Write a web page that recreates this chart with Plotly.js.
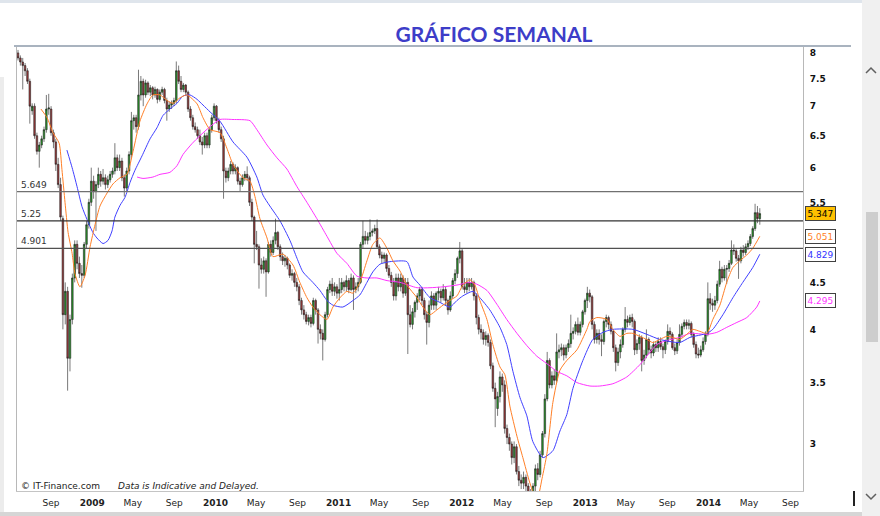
<!DOCTYPE html>
<html><head><meta charset="utf-8">
<script src="https://cdn.plot.ly/plotly-3.0.1.min.js"></script>
<style>html,body{margin:0;padding:0;background:#fff;overflow:hidden}</style>
</head><body><div id="chart" style="width:880px;height:516px"></div>
<script>
// ---- DATA (weekly) ----
const startDate = '2008-05-26';
const openP = [
8.0,7.9,7.82,7.75,7.65,7.45,6.92,7.0,6.5,6.25,
6.35,6.45,6.6,6.95,6.95,6.55,6.4,6.05,5.75,5.28,
4.15,4.4,3.72,4.1,4.55,4.95,4.72,4.6,4.58,4.95,
5.2,5.5,5.8,5.65,5.75,5.9,5.8,5.85,5.75,5.82,
5.9,5.95,6.15,6.0,6.1,5.85,5.7,5.95,6.2,6.75,
6.8,6.65,7.2,7.45,7.2,7.42,7.25,7.33,7.2,7.3,
7.12,7.25,7.3,7.1,6.95,7.02,7.05,7.1,7.65,7.45,
7.3,7.38,7.25,6.95,6.8,6.65,6.6,6.5,6.4,6.35,
6.5,6.35,6.6,6.8,7.0,6.75,6.6,6.45,5.95,5.85,
5.95,6.05,5.95,6.0,5.8,5.75,5.85,5.9,5.85,5.5,
5.3,4.95,4.92,4.7,4.65,4.75,4.62,4.95,4.85,5.0,
5.1,4.92,4.8,4.75,4.78,4.7,4.58,4.6,4.5,4.45,
4.3,4.2,4.15,4.08,4.12,4.06,4.3,4.2,4.0,3.96,
3.9,4.15,4.42,4.48,4.4,4.45,4.38,4.42,4.5,4.45,
4.52,4.42,4.55,4.42,4.45,4.5,4.95,5.05,5.0,5.05,
5.1,5.12,5.15,4.92,4.82,4.78,4.82,4.66,4.58,4.5,
4.35,4.55,4.45,4.55,4.38,4.5,4.15,4.05,4.18,4.28,
4.35,4.42,4.3,4.15,4.07,4.25,4.35,4.25,4.38,4.4,
4.33,4.42,4.3,4.2,4.35,4.52,4.6,4.78,4.87,4.45,
4.42,4.5,4.45,4.5,4.35,4.12,4.0,3.97,3.9,3.94,
3.87,3.65,3.45,3.28,3.38,3.55,3.48,3.12,3.05,3.0,
2.9,2.98,2.8,2.74,2.72,2.76,2.7,2.64,2.6,2.7,
2.82,2.78,2.92,3.08,3.36,3.7,3.48,3.56,3.52,3.78,
3.8,3.82,3.75,3.82,3.86,3.96,3.98,4.05,3.97,4.05,
4.18,4.3,4.38,4.34,4.05,3.9,3.96,3.9,3.88,4.08,
4.12,4.05,3.98,3.82,3.68,3.78,3.85,4.0,4.1,4.07,
4.12,4.08,3.8,3.86,3.92,3.7,3.75,3.9,3.8,3.77,
3.85,3.82,3.88,3.83,3.8,3.88,3.98,3.95,3.82,3.79,
3.87,3.95,4.03,4.07,4.04,4.06,3.95,3.85,3.76,3.75,
3.8,3.88,3.95,4.32,4.27,4.25,4.3,4.48,4.65,4.55,
4.65,4.66,4.72,4.88,4.87,4.78,4.75,4.88,4.85,4.92,
4.96,5.05,5.15,5.36,5.28];
const highP = [
8.06,7.95,7.9,7.8,7.7,7.5,7.05,7.05,6.55,6.4,
6.5,6.65,7.2,7.22,7.0,6.6,6.45,6.15,5.85,5.32,
4.5,4.45,4.15,4.6,5.0,5.0,4.8,4.7,4.98,5.25,
5.55,6.0,5.88,5.8,6.0,5.95,5.98,5.9,5.88,5.95,
6.0,6.38,6.2,6.2,6.15,5.9,6.0,6.25,6.9,6.85,
6.85,7.67,7.55,7.5,7.48,7.45,7.38,7.36,7.35,7.32,
7.3,7.35,7.33,7.15,7.08,7.1,7.15,7.83,7.75,7.55,
7.42,7.4,7.28,7.0,6.85,6.72,6.65,6.6,6.48,6.55,
6.55,6.65,6.85,7.05,7.02,6.8,6.65,6.5,6.0,6.0,
6.1,6.08,6.05,6.02,5.85,5.9,5.95,6.02,5.88,5.55,
5.32,5.12,4.95,4.78,4.8,4.78,4.98,5.0,5.05,5.28,
5.12,4.95,4.85,4.82,4.8,4.72,4.65,4.62,4.55,4.48,
4.33,4.25,4.18,4.15,4.15,4.33,4.32,4.22,4.05,4.0,
4.18,4.45,4.52,4.55,4.5,4.48,4.55,4.55,4.52,4.58,
4.55,4.6,4.58,4.5,4.55,4.98,5.25,5.12,5.1,5.27,
5.15,5.2,5.27,4.95,4.86,4.85,4.84,4.7,4.62,4.55,
4.6,4.6,4.6,4.58,4.55,4.55,4.25,4.22,4.3,4.38,
4.45,4.45,4.33,4.18,4.3,4.4,4.38,4.4,4.45,4.43,
4.48,4.45,4.32,4.4,4.55,4.65,4.8,4.98,4.9,4.55,
4.55,4.55,4.55,4.52,4.38,4.15,4.05,4.0,3.98,3.96,
3.9,3.68,3.5,3.42,3.6,3.58,3.52,3.15,3.08,3.02,
3.02,3.0,2.84,2.78,2.8,2.78,2.72,2.68,2.72,2.85,
2.86,2.95,3.1,3.4,3.78,3.72,3.6,3.62,3.96,3.85,
3.86,3.85,3.85,3.9,4.15,4.02,4.08,4.12,4.08,4.2,
4.32,4.45,4.42,4.36,4.08,4.0,4.0,3.95,4.1,4.15,
4.14,4.08,4.0,3.85,3.82,3.9,4.02,4.23,4.14,4.15,
4.16,4.1,3.9,3.95,3.94,3.8,4.0,3.92,3.84,3.88,
3.88,3.92,3.92,3.86,3.9,4.05,4.02,3.97,3.86,3.9,
4.05,4.06,4.1,4.1,4.1,4.08,3.97,3.88,3.82,3.84,
3.92,3.98,4.5,4.38,4.32,4.35,4.52,4.75,4.68,4.7,
4.7,4.76,5.0,4.95,4.9,4.82,4.92,4.94,4.96,5.0,
5.08,5.18,5.48,5.45,5.42];
const lowP = [
7.85,7.75,7.3,7.55,7.4,6.7,6.85,6.45,6.2,6.0,
6.3,6.4,6.55,6.85,6.5,6.3,5.95,5.7,5.25,4.0,
4.05,3.43,3.6,4.05,4.5,4.65,4.55,4.44,4.55,4.9,
5.15,5.45,5.55,5.12,5.7,5.72,5.75,5.68,5.7,5.78,
5.85,5.9,5.95,5.95,5.8,5.58,5.65,5.9,6.15,6.6,
6.55,6.6,7.1,7.0,7.15,7.2,7.18,7.12,7.15,7.05,
7.08,7.2,7.05,6.75,6.9,6.95,7.0,7.05,7.4,7.25,
7.25,7.2,6.9,6.75,6.6,6.55,6.45,6.35,6.2,6.3,
6.3,6.3,6.55,6.75,6.7,6.55,6.4,5.55,5.78,5.8,
5.9,5.9,5.9,5.75,5.65,5.72,5.8,5.8,5.45,5.25,
4.72,4.88,4.43,4.6,4.6,4.34,4.6,4.8,4.82,4.95,
4.88,4.75,4.7,4.68,4.65,4.55,4.52,4.45,4.4,4.25,
4.15,4.1,4.05,4.04,4.02,4.04,4.15,3.86,3.9,3.7,
3.88,4.12,4.38,4.35,4.35,4.32,4.3,4.38,4.4,4.4,
4.38,4.4,4.2,4.38,4.4,4.48,4.9,4.95,4.95,5.0,
5.05,5.08,4.9,4.78,4.72,4.72,4.62,4.55,4.45,4.3,
4.3,4.4,4.4,4.33,4.35,3.76,4.02,4.0,4.12,4.2,
4.3,4.25,4.1,3.85,4.02,4.2,4.2,4.2,4.3,4.28,
4.3,4.25,4.15,4.18,4.32,4.48,4.55,4.72,4.42,4.38,
4.38,4.4,4.42,4.3,4.05,3.95,3.9,3.85,3.84,3.83,
3.62,3.42,3.13,3.22,3.33,3.42,3.08,3.0,2.95,2.85,
2.86,2.78,2.7,2.68,2.68,2.66,2.6,2.56,2.58,2.66,
2.74,2.76,2.9,3.05,3.34,3.45,3.45,3.48,3.5,3.72,
3.74,3.7,3.72,3.78,3.82,3.9,3.95,3.94,3.94,4.02,
4.15,4.22,4.28,4.0,3.86,3.86,3.85,3.74,3.85,4.02,
4.0,3.95,3.78,3.6,3.65,3.72,3.82,3.97,4.02,4.04,
4.02,3.75,3.76,3.8,3.6,3.66,3.72,3.76,3.72,3.74,
3.78,3.78,3.8,3.72,3.76,3.85,3.9,3.8,3.75,3.76,
3.84,3.92,4.0,4.0,4.0,3.92,3.82,3.72,3.72,3.73,
3.78,3.85,3.93,4.2,4.18,4.2,4.27,4.45,4.5,4.52,
4.48,4.62,4.7,4.82,4.74,4.54,4.72,4.8,4.82,4.88,
4.93,5.02,5.12,5.22,5.2];
const closeP = [
7.9,7.82,7.75,7.65,7.45,7.0,7.0,6.5,6.25,6.35,
6.45,6.6,6.95,6.97,6.55,6.4,6.05,5.75,5.3,4.15,
4.4,3.72,4.1,4.55,4.95,4.72,4.6,4.58,4.95,5.2,
5.5,5.8,5.65,5.75,5.9,5.8,5.85,5.75,5.82,5.9,
5.95,6.15,6.0,6.1,5.85,5.7,5.95,6.2,6.75,6.8,
6.65,7.2,7.45,7.2,7.42,7.25,7.33,7.2,7.3,7.12,
7.25,7.3,7.1,6.95,7.02,7.05,7.1,7.65,7.45,7.3,
7.38,7.25,6.95,6.8,6.65,6.6,6.5,6.4,6.35,6.5,
6.35,6.6,6.8,7.0,6.75,6.6,6.45,5.95,5.85,5.95,
6.05,5.95,6.0,5.8,5.75,5.85,5.9,5.85,5.5,5.3,
4.95,4.92,4.7,4.65,4.75,4.62,4.95,4.85,5.0,5.1,
4.92,4.8,4.75,4.78,4.7,4.58,4.6,4.5,4.45,4.3,
4.2,4.15,4.08,4.12,4.06,4.3,4.2,4.0,3.96,3.9,
4.15,4.42,4.48,4.4,4.45,4.38,4.42,4.5,4.45,4.52,
4.42,4.55,4.42,4.45,4.5,4.95,5.05,5.0,5.05,5.1,
5.12,5.15,4.92,4.82,4.78,4.82,4.66,4.58,4.5,4.35,
4.55,4.45,4.55,4.38,4.5,4.15,4.05,4.18,4.28,4.35,
4.42,4.3,4.15,4.07,4.25,4.35,4.25,4.38,4.4,4.33,
4.42,4.3,4.2,4.35,4.52,4.6,4.78,4.87,4.45,4.42,
4.5,4.45,4.5,4.35,4.12,4.0,3.97,3.9,3.94,3.87,
3.65,3.45,3.36,3.38,3.55,3.48,3.12,3.05,3.0,2.9,
2.98,2.8,2.74,2.72,2.76,2.7,2.64,2.6,2.7,2.82,
2.78,2.92,3.08,3.36,3.7,3.48,3.56,3.52,3.78,3.8,
3.82,3.75,3.82,3.86,3.96,3.98,4.05,3.97,4.05,4.18,
4.3,4.38,4.34,4.05,3.9,3.96,3.9,3.88,4.08,4.12,
4.05,3.98,3.82,3.68,3.78,3.85,4.0,4.1,4.07,4.12,
4.08,3.8,3.86,3.92,3.7,3.75,3.9,3.8,3.77,3.85,
3.82,3.88,3.83,3.8,3.88,3.98,3.95,3.82,3.79,3.87,
3.95,4.03,4.07,4.04,4.06,3.95,3.85,3.76,3.75,3.8,
3.88,3.95,4.32,4.27,4.25,4.3,4.48,4.65,4.55,4.65,
4.66,4.72,4.88,4.87,4.78,4.75,4.88,4.85,4.92,4.96,
5.05,5.15,5.36,5.28,5.347];

// moving averages: [week index, value]
const maOrange = [[9.7,6.95],[12.3,6.8],[14.8,6.55],[17.4,6.38],[18.6,5.97],[19.9,5.5],[21.2,5.1],[22.9,4.84],[24.1,4.6],[26.2,4.45],[28.4,4.58],[30.5,4.92],[32.6,5.2],[34.7,5.45],[37.7,5.63],[40.2,5.76],[43.2,5.85],[46.1,5.9],[48.7,6.25],[51.6,6.74],[54.6,7.04],[57.1,7.2],[60.1,7.2],[63.1,7.1],[65.6,7.05],[68.6,7.15],[71.5,7.2],[75.8,7.04],[78.3,6.8],[81.3,6.6],[85.5,6.55],[88.4,6.3],[91.0,6.05],[95.2,5.85],[98.2,5.8],[100.3,5.58],[102.4,5.28],[105.4,5.03],[107.9,4.8],[112.1,4.83],[116.4,4.7],[119.3,4.5],[122.3,4.33],[124.8,4.23],[127.8,4.15],[130.8,4.1],[133.3,4.23],[136.3,4.33],[139.2,4.4],[141.8,4.38],[144.7,4.5],[147.7,4.75],[150.2,4.95],[153.2,5.03],[156.2,4.9],[158.7,4.75],[161.7,4.63],[164.6,4.47],[168.9,4.33],[171.4,4.23],[174.4,4.15],[177.3,4.2],[179.9,4.25],[182.8,4.3],[185.8,4.35],[188.3,4.47],[191.3,4.53],[193.4,4.47],[195.5,4.3],[198.5,4.1],[201.0,3.85],[204.0,3.64],[206.1,3.57],[208.2,3.3],[211.2,3.06],[213.7,2.9],[216.7,2.72],[219.6,2.6],[221.8,2.75],[223.9,2.93],[226.4,3.33],[229.4,3.61],[232.3,3.7],[236.6,3.8],[240.8,4.0],[242.1,4.08],[245.0,4.12],[249.3,4.1],[251.8,4.0],[254.8,3.93],[257.7,3.96],[260.3,3.96],[263.2,3.93],[266.2,3.9],[268.7,3.87],[271.7,3.9],[274.6,3.93],[277.2,3.92],[280.1,3.9],[283.1,3.95],[285.6,4.0],[288.6,3.98],[291.6,3.96],[294.1,4.1],[297.1,4.25],[300.0,4.5],[302.6,4.67],[305.5,4.75],[308.5,4.82],[311.0,4.9],[314,5.051]];
const maBlue = [[20.7,6.27],[22.9,6.0],[25.0,5.72],[27.1,5.44],[29.2,5.27],[31.7,5.1],[33.4,5.03],[36.0,4.96],[38.1,5.0],[39.8,5.12],[41.0,5.3],[43.2,5.46],[45.3,5.57],[47.4,5.78],[49.5,5.96],[52.5,6.18],[55.9,6.45],[58.8,6.63],[61.4,6.84],[64.3,6.95],[67.3,7.05],[69.8,7.18],[72.8,7.2],[75.8,7.12],[78.3,7.02],[81.3,6.9],[85.5,6.74],[91.0,6.4],[96.9,6.16],[101.1,5.86],[103.7,5.6],[106.6,5.45],[110.9,5.25],[115.1,5.0],[118.1,4.78],[120.6,4.62],[124.8,4.5],[127.8,4.41],[130.8,4.3],[133.3,4.25],[137.5,4.23],[141.8,4.3],[144.7,4.36],[147.7,4.5],[150.2,4.62],[153.2,4.71],[157.4,4.74],[164.6,4.74],[167.2,4.56],[170.1,4.47],[174.4,4.33],[178.6,4.28],[182.8,4.23],[185.8,4.3],[188.3,4.35],[192.6,4.4],[195.5,4.33],[199.7,4.2],[204.0,4.02],[206.9,3.85],[209.5,3.6],[212.5,3.37],[215.4,3.22],[217.9,3.02],[222.2,2.9],[226.4,2.95],[229.4,3.1],[232.3,3.23],[234.9,3.45],[239.1,3.7],[243.3,3.9],[247.6,3.97],[251.8,4.0],[260.3,4.0],[266.2,3.95],[271.7,3.9],[280.1,3.87],[284.4,3.92],[291.6,3.96],[294.1,4.0],[298.4,4.15],[302.6,4.33],[306.8,4.5],[311.0,4.67],[314,4.829]];
const maMagenta = [[50.4,5.86],[52.9,5.84],[57.1,5.86],[60.1,5.9],[64.3,5.93],[67.3,6.03],[69.8,6.2],[73.6,6.37],[77.0,6.5],[81.3,6.65],[85.5,6.77],[91.0,6.77],[98.2,6.75],[101.1,6.6],[105.4,6.35],[109.6,6.15],[113.8,5.98],[118.1,5.72],[122.3,5.5],[126.5,5.28],[130.8,5.05],[135.0,4.84],[139.2,4.72],[143.5,4.57],[147.7,4.55],[151.9,4.55],[156.2,4.52],[161.7,4.5],[168.9,4.44],[174.4,4.44],[179.9,4.45],[185.8,4.47],[191.3,4.5],[194.2,4.48],[198.5,4.41],[202.7,4.26],[206.9,4.1],[211.2,3.96],[215.4,3.84],[219.6,3.74],[223.9,3.67],[228.1,3.6],[232.3,3.56],[236.6,3.5],[242.1,3.47],[246.3,3.47],[251.8,3.49],[257.7,3.55],[263.2,3.66],[266.2,3.74],[270.4,3.85],[274.6,3.89],[280.1,3.92],[284.4,3.96],[291.6,3.95],[295.8,3.97],[300.0,4.02],[304.3,4.07],[308.5,4.12],[312.7,4.23],[314,4.295]];

const levelValues = [5.649, 5.25, 4.901];
const levelLabels = ['5.649', '5.25', '4.901'];
const lastValues = [5.347, 5.051, 4.829, 4.295];
const lastLabels = ['5.347', '5.051', '4.829', '4.295'];
const yTickVals = [3, 3.5, 4, 4.5, 5.5, 6, 6.5, 7, 7.5, 8];
const yTickText = ['3', '3.5', '4', '4.5', '5.5', '6', '6.5', '7', '7.5', '8'];
const xTickDates = ['2008-09-01','2009-01-01','2009-05-01','2009-09-01','2010-01-01','2010-05-01','2010-09-01','2011-01-01','2011-05-01','2011-09-01','2012-01-01','2012-05-01','2012-09-01','2013-01-01','2013-05-01','2013-09-01','2014-01-01','2014-05-01','2014-09-01'];
const xTickLabels = ['Sep','2009','May','Sep','2010','May','Sep','2011','May','Sep','2012','May','Sep','2013','May','Sep','2014','May','Sep'];

// ---- helpers ----
const DAY = 86400000;
const t0 = Date.parse(startDate + 'T00:00:00Z');
function wkDate(w) { return new Date(t0 + w * 7 * DAY).toISOString().slice(0, 19).replace('T', ' '); }
const dates = closeP.map((_, i) => wkDate(i));
const xRange = ['2008-05-23', '2014-10-08'];

const W = 880, H = 516, L = 17, R = 803, T = 46, B = 491;
const px = v => (v - L) / (R - L);
const py = v => (B - v) / (B - T);

const traces = [];
traces.push({
  type: 'candlestick', x: dates, open: openP, high: highP, low: lowP, close: closeP,
  increasing: { line: { color: '#202020', width: 0.6 }, fillcolor: '#2a9a2a' },
  decreasing: { line: { color: '#202020', width: 0.6 }, fillcolor: '#a03a3a' },
  whiskerwidth: 0, showlegend: false, hoverinfo: 'skip'
});
function maTrace(pairs, color) {
  return { type: 'scatter', mode: 'lines', x: pairs.map(p => wkDate(p[0])), y: pairs.map(p => p[1]),
    line: { color: color, width: 1, shape: 'spline', smoothing: 0.6 }, showlegend: false, hoverinfo: 'skip' };
}
traces.push(maTrace(maMagenta, '#ff33ff'));
traces.push(maTrace(maBlue, '#4040ff'));
traces.push(maTrace(maOrange, '#ff7f27'));
const levelColors = ['#707070', '#333333', '#505050'];
levelValues.forEach((v, i) => traces.push({
  type: 'scatter', mode: 'lines', x: xRange, y: [v, v],
  line: { color: levelColors[i], width: 1.3 }, showlegend: false, hoverinfo: 'skip'
}));

const annotations = [];
levelValues.forEach((v, i) => annotations.push({
  xref: 'paper', x: px(19), xanchor: 'left', yref: 'y', y: Math.log10(v), yanchor: 'bottom', yshift: 0,
  text: levelLabels[i], showarrow: false, font: { family: 'DejaVu Sans', size: 9, color: '#333' }
}));
const boxText = ['#000000', '#ff7f27', '#3333ff', '#ff33ff'];
const boxFill = ['#ffc000', '#ffffff', '#ffffff', '#ffffff'];
lastValues.forEach((v, i) => annotations.push({
  xref: 'paper', x: px(805), xanchor: 'left', yref: 'y', y: Math.log10(v), yanchor: 'middle',
  text: lastLabels[i], showarrow: false, bgcolor: boxFill[i], bordercolor: '#404040', borderwidth: 1, borderpad: 1.5,
  font: { family: 'DejaVu Sans', size: 9, color: boxText[i] }
}));
annotations.push({ xref: 'paper', yref: 'paper', x: px(19), y: py(486), xanchor: 'left', yanchor: 'middle',
  text: '© IT-Finance.com', showarrow: false, font: { family: 'DejaVu Sans', size: 9, color: '#222' } });
annotations.push({ xref: 'paper', yref: 'paper', x: px(116), y: py(486), xanchor: 'left', yanchor: 'middle',
  text: '<i>Data is Indicative and Delayed.</i>', showarrow: false, font: { family: 'DejaVu Sans', size: 9, color: '#222' } });

function rect(x0, y0, x1, y1, fill) {
  return { type: 'rect', xref: 'paper', yref: 'paper', x0: px(x0), x1: px(x1), y0: py(y1), y1: py(y0),
    fillcolor: fill, line: { width: 0 }, layer: 'below' };
}
function pathPx(points, color, w) {
  const d = points.map((p, i) => (i ? 'L' : 'M') + px(p[0]) + ',' + py(p[1])).join(' ');
  return { type: 'path', xref: 'paper', yref: 'paper', path: d, line: { color: color, width: w } };
}
const shapes = [
  rect(0, 0, 880, 3, '#dfe5ec'),
  rect(0, 77, 4, 516, '#ececec'),
  rect(0, 512, 880, 516, '#d6d6d6'),
  rect(862, 0, 880, 516, '#f0f0f0'),
  rect(866, 212, 878, 342, '#cdcdcd'),
  pathPx([[866, 73], [871, 68], [876, 73]], '#606060', 1.5),
  pathPx([[866, 494], [871, 499], [876, 494]], '#606060', 1.5),
  pathPx([[854, 491], [854, 506]], '#222', 2),
  pathPx([[14, 46], [851, 46]], '#a9b3bf', 2)
];

const layout = {
  width: W, height: H, paper_bgcolor: '#ffffff', plot_bgcolor: '#ffffff',
  margin: { l: L, r: W - R, t: T, b: H - B, pad: 0 },
  boxgap: 0.05,
  title: { text: '<b>GRÁFICO SEMANAL</b>', x: 494 / W, xanchor: 'center', xref: 'container',
    y: 1 - 35 / H, yanchor: 'middle', yref: 'container',
    font: { family: 'Lato', size: 21, color: '#3d3dc8' } },
  xaxis: {
    type: 'date', range: xRange, rangeslider: { visible: false },
    tickvals: xTickDates, ticktext: xTickLabels.map(t => /^\d{4}$/.test(t) ? '<b>' + t + '</b>' : t),
    tickfont: { family: 'DejaVu Sans', size: 9, color: '#222' }, ticks: '', showgrid: false, zeroline: false,
    showline: true, linecolor: '#c4c4c4', linewidth: 1, mirror: true, fixedrange: true, ticklabelstandoff: 3
  },
  yaxis: {
    type: 'log', range: [Math.log10(2.667), Math.log10(8.14)], side: 'right',
    tickvals: yTickVals, ticktext: yTickText.map(t => '<b>' + t + '</b>'),
    tickfont: { family: 'DejaVu Sans', size: 9, color: '#111' }, ticks: '', showgrid: false, zeroline: false,
    showline: true, linecolor: '#b8b8b8', linewidth: 1, mirror: true, fixedrange: true, ticklabelstandoff: 4
  },
  showlegend: false, hovermode: false, dragmode: false,
  annotations: annotations, shapes: shapes
};
Plotly.newPlot('chart', traces, layout, { staticPlot: true, displayModeBar: false });
</script></body></html>
